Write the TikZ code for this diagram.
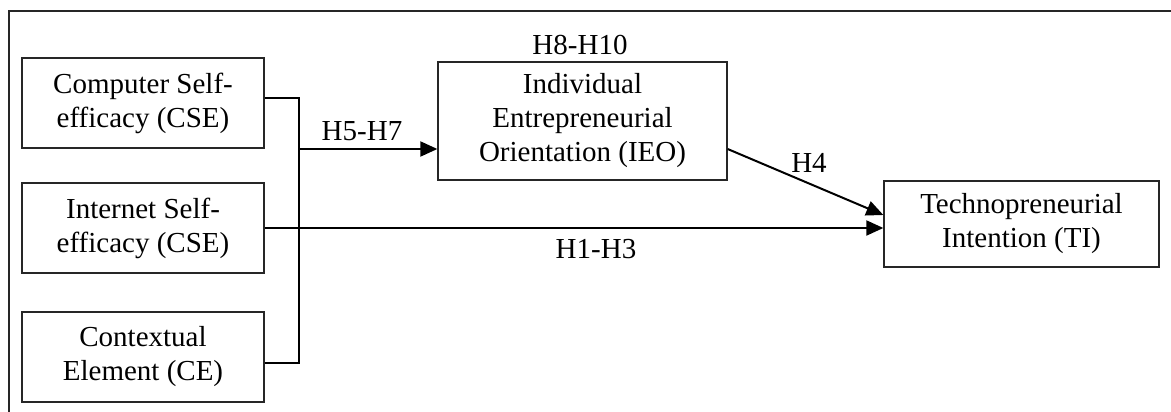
\documentclass[tikz,border=0pt]{standalone}
\usepackage{fontspec}
\setmainfont{Liberation Serif}
\usetikzlibrary{arrows.meta,calc}
\begin{document}
\begin{tikzpicture}[x=1pt,y=-1pt,
  box/.style={draw=black!85, line width=1.3pt, align=center, inner sep=0pt,
    font=\fontsize{29}{34}\selectfont},
  conn/.style={line width=2pt},
  arr/.style={conn, -{Triangle[length=17pt,width=15pt]}},
  lab/.style={font=\fontsize{29}{34}\selectfont, anchor=base, inner sep=0pt},
  frame/.style={draw=black!85, line width=1.3pt}]
\useasboundingbox (0,0) rectangle (1171,412);
% frame
\coordinate (fa) at (9,412);
\coordinate (fb) at (9,11);
\coordinate (fc) at (1171,11);
\draw[frame] (fa) -- (fb) -- (fc);
% boxes
\node[box, minimum width=242pt, minimum height=90pt] (cse) at (143,103) {Computer Self-\\efficacy (CSE)};
\node[box, minimum width=242pt, minimum height=90pt] (ise) at (143,228) {Internet Self-\\efficacy (CSE)};
\node[box, minimum width=242pt, minimum height=90pt] (ce) at (143,357) {Contextual\\Element (CE)};
\node[box, minimum width=289pt, minimum height=118pt] (ieo) at (582.5,121) {Individual\\Entrepreneurial\\Orientation (IEO)};
\node[box, minimum width=275pt, minimum height=86pt] (ti) at (1021.5,224) {Technopreneurial\\Intention (TI)};
% bracket
\coordinate (bt) at (299,98);
\coordinate (bb) at (299,363);
\coordinate (bm) at (299,149);
\draw[conn] (bt -| cse.east) -- (bt) -- (bb) -- (bb -| ce.east);
\draw[arr] (bm) -- (bm -| ieo.west);
% direct path
\draw[arr] (ise.east) -- (ise.east -| ti.west);
% H4
\draw[arr] ([yshift=-28pt]ieo.east) -- ([yshift=9pt]ti.west);
% labels
\node[lab] (l57) at (362,140) {H5-H7};
\node[lab] (l810) at (580,55) {H8-H10};
\node[lab] (l13) at (596,258) {H1-H3};
\node[lab] (l4) at (809,172) {H4};
\end{tikzpicture}
\end{document}
